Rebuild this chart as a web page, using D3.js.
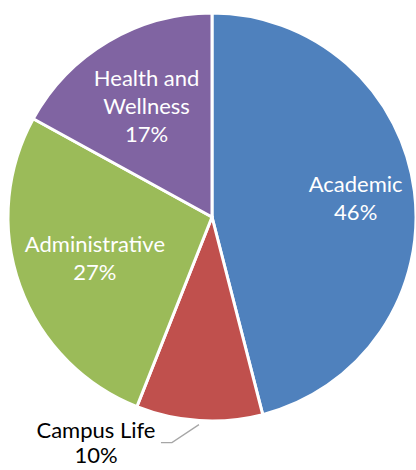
<!DOCTYPE html>
<html>
<head>
<meta charset="utf-8">
<script src="https://cdn.jsdelivr.net/npm/d3@7"></script>
<style>
  html, body { margin: 0; padding: 0; background: #ffffff; }
  #chart { width: 416px; height: 470px; }
</style>
</head>
<body>
<div id="chart"></div>
<script>
// Chart data
var categories = ["Academic", "Campus Life", "Administrative", "Health and Wellness"];
var shares = [46, 10, 27, 17];
var labelLines = [["Academic"], ["Campus Life"], ["Administrative"], ["Health and", "Wellness"]];
var colors = ["#4F81BD", "#C0504D", "#9BBB59", "#8064A2"];

var width = 416;
var height = 470;
var cx = 212;
var cy = 217;
var radius = 204;

var svg = d3
  .select("#chart")
  .append("svg")
  .attr("width", width)
  .attr("height", height);

var g = svg.append("g").attr("transform", "translate(" + cx + "," + cy + ")");

var pie = d3.pie().sort(null).value(function (d) { return d; });
var arcs = pie(shares);

var arc = d3.arc().innerRadius(0).outerRadius(radius);

// slices
g.selectAll("path.slice")
  .data(arcs)
  .enter()
  .append("path")
  .attr("class", "slice")
  .attr("d", arc)
  .attr("fill", function (d, i) { return colors[i]; })
  .attr("stroke", "#ffffff")
  .attr("stroke-width", 3)
  .attr("stroke-linejoin", "miter");

var fontSize = 22;
var lineH = 27;

// "best fit" style label distance from centre (fraction of radius)
function labelFrac(name) {
  if (name === "Academic") return 0.71;
  if (name === "Administrative") return 0.61;
  return 0.63;
}

function addLabel(x, y, lines, fill, lh) {
  var t = g.append("text")
    .attr("text-anchor", "middle")
    .attr("font-family", "Lato, 'Open Sans', sans-serif")
    .attr("font-size", fontSize)
    .attr("fill", fill);
  var n = lines.length;
  lines.forEach(function (line, k) {
    t.append("tspan")
      .attr("x", x)
      .attr("y", y + (k - (n - 1) / 2) * lh + fontSize * 0.33)
      .text(line);
  });
}

arcs.forEach(function (d, i) {
  var lines = labelLines[i].concat([shares[i] + "%"]);
  var mid = (d.startAngle + d.endAngle) / 2;
  if (categories[i] === "Campus Life") {
    // small slice: label outside with a leader line
    var ax = Math.sin(mid) * (radius + 4);
    var ay = -Math.cos(mid) * (radius + 4);
    var ex = ax - 27;
    var ey = ay + 18;
    var lx = ex - 11;
    g.append("polyline")
      .attr("points", [[ax, ay], [ex, ey], [lx, ey]].map(function (p) { return p.join(","); }).join(" "))
      .attr("fill", "none")
      .attr("stroke", "#A6A6A6")
      .attr("stroke-width", 1.3);
    addLabel(lx - 65, ey + 1, lines, "#000000", 25);
  } else {
    var r = radius * labelFrac(categories[i]);
    addLabel(Math.sin(mid) * r, -Math.cos(mid) * r, lines, "#ffffff", 28);
  }
});
</script>
</body>
</html>
